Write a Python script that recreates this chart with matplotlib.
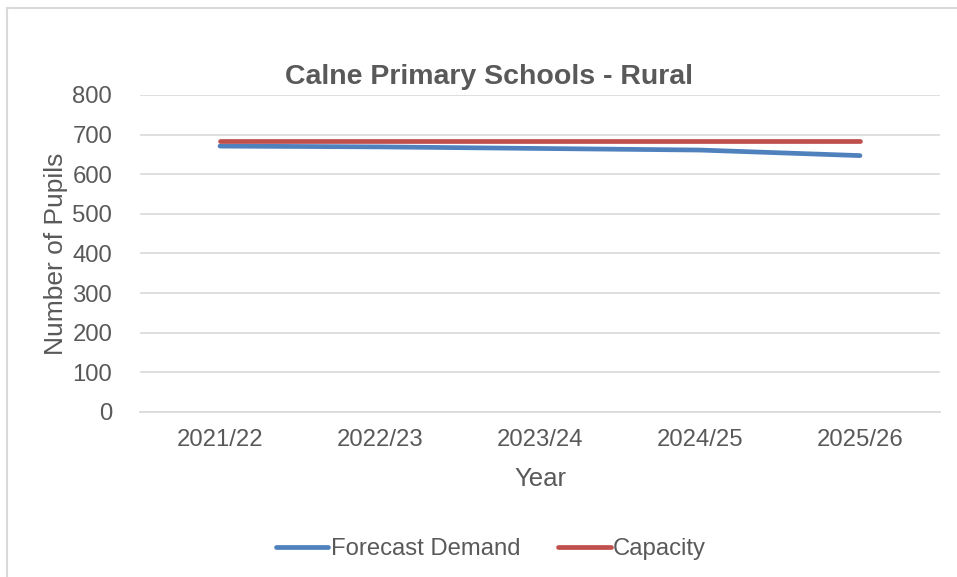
import matplotlib.pyplot as plt
from matplotlib.lines import Line2D

plt.rcParams['font.family'] = ['Liberation Sans', 'DejaVu Sans']

years = ['2021/22', '2022/23', '2023/24', '2024/25', '2025/26']
forecast_demand = [671, 669, 665, 661, 647]
capacity = [683, 683, 683, 683, 683]

text_col = '#595959'
grid_col = '#D9D9D9'

fig = plt.figure(figsize=(9.57, 5.77), dpi=100)
ax = fig.add_axes([0.1463, 0.286, 0.8359, 0.5494])

x = range(len(years))
ax.plot(x, forecast_demand, color='#4F81BD', lw=3.4, solid_capstyle='round',
        label='Forecast Demand', zorder=3)
ax.plot(x, capacity, color='#C0504D', lw=3.4, solid_capstyle='round',
        label='Capacity', zorder=3)

ax.set_xlim(-0.5, len(years) - 0.5)
ax.set_ylim(0, 800)
ax.set_yticks(range(0, 801, 100))
ax.set_xticks(list(x))
ax.set_xticklabels(years)
ax.yaxis.grid(True, color=grid_col, lw=1.2)
ax.set_axisbelow(True)
for s in ['top', 'right', 'left']:
    ax.spines[s].set_visible(False)
ax.spines['bottom'].set_color(grid_col)
ax.spines['bottom'].set_linewidth(1.2)
ax.tick_params(length=0, labelsize=17.2, colors=text_col)
ax.tick_params(axis='x', pad=12)
ax.tick_params(axis='y', pad=20)

ax.set_xlabel('Year', fontsize=18.5, color=text_col, labelpad=12)
ax.set_ylabel('Number of Pupils', fontsize=19, color=text_col, labelpad=3)
fig.text(0.511, 0.866, 'Calne Primary Schools - Rural', ha='center', va='center',
         fontsize=20.5, fontweight='bold', color=text_col)

leg = fig.legend(loc='center', bbox_to_anchor=(0.513, 0.048), ncol=2, frameon=False,
                 fontsize=17.2, handlelength=2.2, handletextpad=0.1, columnspacing=1.6)
for t in leg.get_texts():
    t.set_color(text_col)

# chart border (partly cropped in the original)
fig.add_artist(Line2D([0.0073, 0.0073], [0, 0.986], color=grid_col, lw=1.5))
fig.add_artist(Line2D([0.0073, 1.0], [0.986, 0.986], color=grid_col, lw=1.5))

fig.savefig('out.png', dpi=100)
